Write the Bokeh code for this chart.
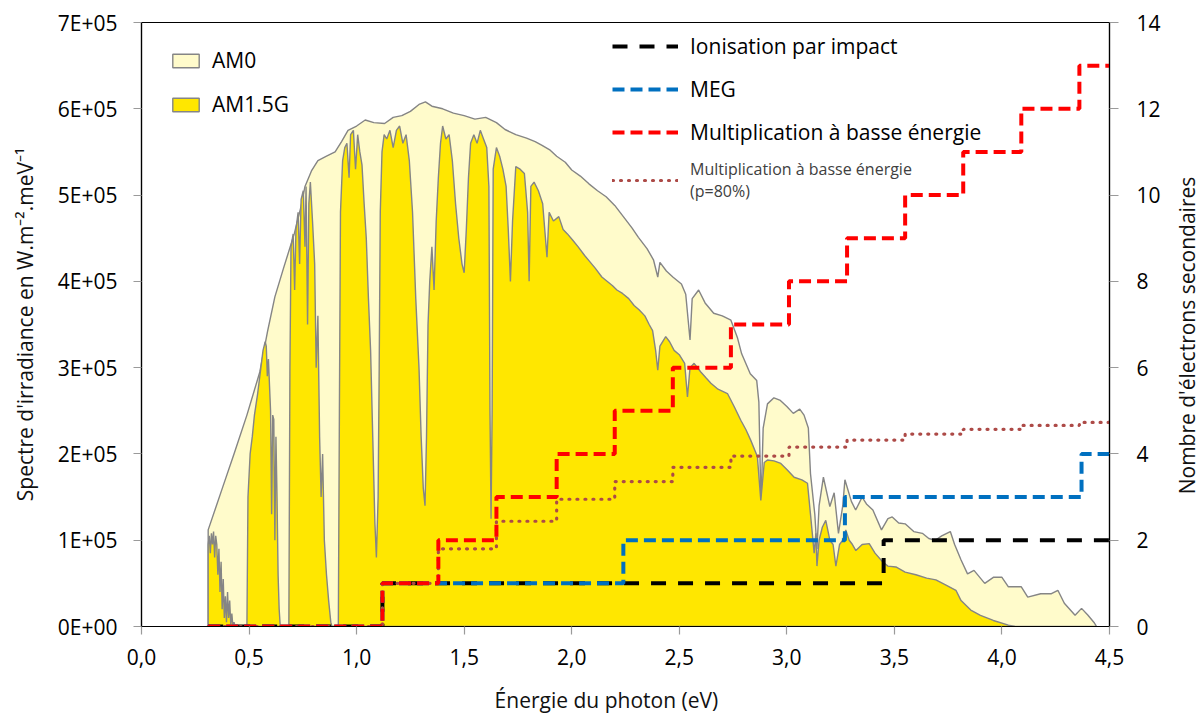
import math
import numpy as np
from bokeh.plotting import figure
from bokeh.layouts import row
from bokeh.models import (Range1d, LinearAxis, FixedTicker, Legend, LegendItem, Label)
from bokeh.embed import file_html
from bokeh.resources import INLINE

# ---------------- data ----------------
# AM0 spectrum (photon energy in eV, irradiance in units of 1E+05 W.m-2.meV-1)
am0_ev = [0.31, 0.37, 0.43, 0.49, 0.55, 0.586, 0.62, 0.66, 0.71, 0.74, 0.76, 0.79, 0.82, 0.86,
          0.90, 0.93, 0.96, 1.00, 1.04, 1.08, 1.13, 1.17, 1.21, 1.25, 1.29, 1.32, 1.35, 1.40,
          1.45, 1.50, 1.55, 1.60, 1.65, 1.69, 1.74, 1.79, 1.83, 1.86, 1.90, 1.93, 1.97, 2.00,
          2.04, 2.08, 2.12, 2.16, 2.20, 2.24, 2.28, 2.31, 2.35, 2.38, 2.40, 2.41, 2.44, 2.47,
          2.51, 2.53, 2.55, 2.56, 2.59, 2.62, 2.66, 2.70, 2.74, 2.77, 2.79, 2.83, 2.86, 2.87,
          2.88, 2.89, 2.91, 2.94, 2.97, 3.00, 3.03, 3.06, 3.08, 3.10, 3.11, 3.13, 3.14, 3.15,
          3.17, 3.20, 3.22, 3.24, 3.26, 3.27, 3.30, 3.32, 3.35, 3.37, 3.40, 3.44, 3.47, 3.49,
          3.52, 3.55, 3.59, 3.63, 3.66, 3.69, 3.72, 3.76, 3.78, 3.81, 3.84, 3.87, 3.92, 3.96,
          4.00, 4.03, 4.09, 4.12, 4.18, 4.23, 4.26, 4.29, 4.34, 4.37, 4.40, 4.43, 4.44]
am0_irr = [1.12, 1.56, 2.00, 2.45, 2.95, 3.42, 3.82, 4.15, 4.55, 4.85, 5.10, 5.28, 5.40, 5.45,
           5.50, 5.62, 5.75, 5.80, 5.87, 5.84, 5.83, 5.90, 5.92, 5.97, 6.05, 6.08, 6.03, 6.00,
           5.95, 5.92, 5.88, 5.90, 5.84, 5.76, 5.70, 5.66, 5.62, 5.58, 5.52, 5.45, 5.38, 5.29,
           5.22, 5.13, 5.05, 4.98, 4.88, 4.75, 4.62, 4.51, 4.38, 4.25, 4.05, 4.22, 4.12, 4.05,
           3.97, 3.85, 3.32, 3.80, 3.90, 3.75, 3.63, 3.60, 3.55, 3.35, 3.16, 2.93, 2.85, 2.60,
           1.40, 2.30, 2.58, 2.65, 2.62, 2.55, 2.47, 2.52, 2.45, 2.30, 1.77, 1.30, 0.90, 1.40,
           1.73, 1.39, 1.55, 1.08, 1.40, 1.70, 1.45, 1.35, 1.50, 1.42, 1.35, 1.12, 1.25, 1.27,
           1.20, 1.19, 1.10, 1.08, 1.02, 1.00, 1.05, 1.10, 0.95, 0.77, 0.61, 0.65, 0.50, 0.57,
           0.57, 0.46, 0.46, 0.34, 0.38, 0.38, 0.42, 0.27, 0.13, 0.21, 0.13, 0.04, 0.0]

# AM1.5G spectrum
am15_ev = [0.310, 0.315, 0.320, 0.325, 0.330, 0.335, 0.340, 0.345, 0.350, 0.355, 0.360, 0.365,
           0.370, 0.375, 0.380, 0.385, 0.390, 0.395, 0.400, 0.405, 0.410, 0.415, 0.420, 0.425,
           0.430, 0.435, 0.490, 0.495, 0.505, 0.515, 0.525, 0.540, 0.555, 0.565, 0.575, 0.580,
           0.585, 0.590, 0.600, 0.605, 0.610, 0.615, 0.620, 0.625, 0.630, 0.635, 0.640, 0.645,
           0.685, 0.690, 0.695, 0.705, 0.712, 0.718, 0.728, 0.735, 0.742, 0.752, 0.760, 0.765,
           0.772, 0.778, 0.785, 0.795, 0.805, 0.812, 0.820, 0.828, 0.835, 0.842, 0.850, 0.860,
           0.870, 0.880, 0.885, 0.915, 0.920, 0.925, 0.935, 0.945, 0.955, 0.965, 0.972, 0.985,
           0.995, 1.005, 1.015, 1.025, 1.035, 1.045, 1.055, 1.065, 1.075, 1.085, 1.092, 1.100,
           1.105, 1.110, 1.118, 1.128, 1.140, 1.155, 1.170, 1.185, 1.200, 1.215, 1.230, 1.245,
           1.260, 1.275, 1.290, 1.300, 1.310, 1.318, 1.325, 1.332, 1.340, 1.350, 1.360, 1.370,
           1.380, 1.390, 1.400, 1.415, 1.430, 1.445, 1.460, 1.475, 1.490, 1.500, 1.510, 1.520,
           1.530, 1.545, 1.560, 1.575, 1.590, 1.605, 1.615, 1.620, 1.625, 1.630, 1.635, 1.650,
           1.665, 1.680, 1.695, 1.705, 1.715, 1.725, 1.740, 1.760, 1.780, 1.795, 1.802, 1.810,
           1.825, 1.845, 1.865, 1.885, 1.895, 1.915, 1.940, 1.960, 1.980, 2.004, 2.030, 2.060,
           2.080, 2.110, 2.140, 2.160, 2.190, 2.210, 2.236, 2.265, 2.290, 2.313, 2.340, 2.360,
           2.376, 2.390, 2.400, 2.410, 2.437, 2.455, 2.476, 2.500, 2.525, 2.538, 2.550, 2.569,
           2.600, 2.625, 2.647, 2.680, 2.724, 2.755, 2.786, 2.810, 2.832, 2.863, 2.879, 2.895,
           2.910, 2.940, 2.972, 3.000, 3.034, 3.070, 3.096, 3.110, 3.127, 3.135, 3.140, 3.150,
           3.165, 3.181, 3.200, 3.215, 3.228, 3.245, 3.260, 3.274, 3.290, 3.305, 3.321, 3.350,
           3.383, 3.410, 3.445, 3.470, 3.507, 3.550, 3.600, 3.650, 3.693, 3.740, 3.786, 3.810,
           3.855, 3.900, 3.960, 4.030, 4.060]
am15_irr = [0.95, 1.05, 0.85, 1.08, 0.95, 1.10, 0.80, 1.05, 0.95, 0.60, 0.90, 0.40,
            0.75, 0.20, 0.55, 0.10, 0.35, 0.05, 0.40, 0.10, 0.30, 0.02, 0.15, 0.0,
            0.05, 0.0, 0.0, 1.50, 2.00, 2.20, 2.45, 2.70, 3.00, 3.20, 3.30, 3.25,
            2.90, 3.10, 2.50, 1.30, 2.45, 2.40, 1.00, 2.20, 1.50, 0.60, 0.20, 0.0,
            0.0, 3.00, 4.40, 4.55, 3.90, 4.60, 4.80, 4.20, 4.95, 5.05, 4.40, 5.10,
            3.50, 4.90, 5.15, 4.70, 4.20, 3.00, 3.60, 2.20, 1.50, 2.00, 1.00, 0.60,
            0.30, 0.05, 0.0, 0.0, 2.50, 4.80, 5.40, 5.55, 5.60, 5.20, 5.70, 5.75,
            5.30, 5.70, 5.50, 5.35, 4.90, 4.50, 3.80, 3.20, 2.20, 1.20, 0.80, 1.50,
            3.00, 4.80, 5.50, 5.70, 5.65, 5.75, 5.55, 5.75, 5.80, 5.60, 5.70, 5.40,
            4.80, 3.80, 3.00, 2.20, 1.60, 1.40, 2.20, 3.50, 4.00, 4.40, 3.90, 4.70,
            5.20, 5.60, 5.80, 5.65, 5.70, 5.40, 4.90, 4.50, 4.20, 4.10, 4.60, 5.20,
            5.60, 5.70, 5.60, 5.75, 5.65, 5.55, 5.10, 2.50, 1.25, 2.50, 5.30, 5.55,
            5.45, 5.30, 5.10, 4.60, 4.00, 4.70, 5.33, 5.30, 5.25, 4.80, 4.00, 5.10,
            5.15, 5.05, 4.90, 4.28, 4.80, 4.70, 4.75, 4.60, 4.55, 4.48, 4.40, 4.30,
            4.24, 4.15, 4.05, 4.01, 3.95, 3.90, 3.86, 3.80, 3.72, 3.67, 3.60, 3.50,
            3.43, 3.20, 2.97, 3.25, 3.36, 3.30, 3.20, 3.15, 3.05, 2.66, 3.00, 3.05,
            2.95, 2.88, 2.82, 2.75, 2.70, 2.55, 2.39, 2.28, 2.16, 1.97, 1.46, 1.90,
            1.93, 1.92, 1.89, 1.82, 1.73, 1.70, 1.66, 1.30, 0.85, 1.08, 0.70, 1.00,
            1.15, 1.23, 1.00, 0.95, 0.70, 0.95, 1.00, 1.12, 1.00, 0.95, 0.88, 0.95,
            0.96, 0.85, 0.75, 0.70, 0.69, 0.63, 0.60, 0.56, 0.54, 0.48, 0.42, 0.30,
            0.19, 0.13, 0.07, 0.015, 0.0]

# Secondary electrons (step thresholds in eV and number of electrons)
ion_ev = [0.31, 1.12, 3.45, 4.50]
ion_n = [0, 1, 2, 2]
meg_ev = [0.31, 1.12, 2.24, 3.27, 4.37, 4.50]
meg_n = [0, 1, 2, 3, 4, 4]
lem_ev = [0.31, 1.12, 1.38, 1.65, 1.93, 2.20, 2.47, 2.74, 3.01, 3.28, 3.55, 3.82, 4.09, 4.36, 4.50]
lem_n = [0, 1, 2, 3, 4, 5, 6, 7, 8, 9, 10, 11, 12, 13, 13]
lem80_n = [0, 1, 1.8, 2.44, 2.95, 3.36, 3.69, 3.95, 4.16, 4.32, 4.46, 4.57, 4.66, 4.73, 4.73]

x_ticks = [0.0, 0.5, 1.0, 1.5, 2.0, 2.5, 3.0, 3.5, 4.0, 4.5]
x_tick_labels = ["0,0", "0,5", "1,0", "1,5", "2,0", "2,5", "3,0", "3,5", "4,0", "4,5"]
y_ticks = [0, 100000, 200000, 300000, 400000, 500000, 600000, 700000]
y_tick_labels = ["0E+00", "1E+05", "2E+05", "3E+05", "4E+05", "5E+05", "6E+05", "7E+05"]
y2_ticks = [0, 2, 4, 6, 8, 10, 12, 14]

# ---------------- figure ----------------
FONT = "Open Sans"
NB = "\u00a0"
W, H = 1166, 717          # main chart
TW = 34                   # narrow strip holding the right-hand axis title
FL, FR, FT, FB = 141, 1109, 22, 626   # frame edges on the page
p = figure(width=W, height=H, output_backend="svg", toolbar_location=None,
           x_range=Range1d(0, 4.5), y_range=Range1d(0, 700000))
p.min_border_left = FL
p.min_border_right = W - FR
p.min_border_top = FT
p.min_border_bottom = H - FB
p.extra_y_ranges = {"n": Range1d(0, 14)}
p.xgrid.visible = False
p.ygrid.visible = False
p.outline_line_color = "black"
p.outline_line_width = 1.2
p.background_fill_color = "white"
p.border_fill_color = "white"

def close_poly(xs, ys):
    sx = [xs[0]] + list(xs) + [xs[-1]]
    sy = [0.0] + [v * 1e5 for v in ys] + [0.0]
    return sx, sy

ax0, ay0 = close_poly(am0_ev, am0_irr)
r_am0 = p.patch(ax0, ay0, fill_color="#FFFBCB", line_color="#858585", line_width=1.4)
ax1, ay1 = close_poly(am15_ev, am15_irr)
r_am15 = p.patch(ax1, ay1, fill_color="#FFE700", line_color="#858585", line_width=1.4)

r_ion = p.step(ion_ev, ion_n, mode="after", y_range_name="n", line_color="black",
               line_width=4, line_dash="15 12")
r_meg = p.step(meg_ev, meg_n, mode="after", y_range_name="n", line_color="#0070C0",
               line_width=4, line_dash="12 6")
r_l80 = p.step(lem_ev, lem80_n, mode="after", y_range_name="n", line_color="#AD4A47",
               line_width=3.2, line_dash="1 7", line_cap="round")
r_lem = p.step(lem_ev, lem_n, mode="after", y_range_name="n", line_color="#FF0000",
               line_width=4, line_dash="12 6")

# axes
def style_axis(ax):
    ax.major_label_text_font = FONT
    ax.major_label_text_font_size = "21px"
    ax.major_label_text_color = "black"
    ax.axis_label_text_font = FONT
    ax.axis_label_text_font_size = "21px"
    ax.axis_label_text_font_style = "normal"
    ax.axis_label_text_color = "#111111"
    ax.axis_line_color = "black"
    ax.axis_line_width = 1.2
    ax.major_tick_line_color = "#9a9a9a"
    ax.major_tick_line_width = 1.2
    ax.major_tick_in = 0
    ax.major_tick_out = 8
    ax.minor_tick_line_color = None

xa = p.xaxis[0]
style_axis(xa)
xa.ticker = FixedTicker(ticks=x_ticks)
xa.major_label_overrides = dict(zip(x_ticks, x_tick_labels))
xa.major_label_standoff = 14
xa.axis_label = "Énergie du photon (eV)" + NB * 7
xa.axis_label_standoff = 18

ya = p.yaxis[0]
style_axis(ya)
ya.ticker = FixedTicker(ticks=y_ticks)
ya.major_label_overrides = dict(zip(y_ticks, y_tick_labels))
ya.major_label_standoff = 16
ya.axis_label = "Spectre d'irradiance en W.m⁻².meV⁻¹"
ya.axis_label_standoff = 16

ra = LinearAxis(y_range_name="n")
style_axis(ra)
ra.ticker = FixedTicker(ticks=y2_ticks)
ra.major_tick_out = 9
ra.major_label_standoff = 18
p.add_layout(ra, "right")

# legends
def make_legend(items, x, y, size, color, spacing, gw, gh, standoff):
    lg = Legend(items=items, location=(x, y), orientation="vertical")
    lg.label_text_font = FONT
    lg.label_text_font_size = size
    lg.label_text_color = color
    lg.border_line_color = None
    lg.background_fill_alpha = 0
    lg.padding = 0
    lg.margin = 0
    lg.spacing = spacing
    lg.glyph_width = gw
    lg.glyph_height = gh
    lg.label_standoff = standoff
    lg.label_height = 20
    return lg

leg1 = make_legend([LegendItem(label="AM0", renderers=[r_am0]),
                    LegendItem(label="AM1.5G", renderers=[r_am15])],
                   28, 508, "21px", "black", 16, 33, 17, 10)
leg2 = make_legend([LegendItem(label="Ionisation par impact", renderers=[r_ion]),
                    LegendItem(label="MEG", renderers=[r_meg]),
                    LegendItem(label="Multiplication à basse énergie", renderers=[r_lem])],
                   471, 480, "21px", "black", 15, 66, 20, 12)
leg3 = make_legend([LegendItem(label="Multiplication à basse énergie\n(p=80%)", renderers=[r_l80])],
                   471, 424, "16px", "#404040", 0, 66, 20, 12)
for lg in (leg1, leg2, leg3):
    p.add_layout(lg, "center")

# strip to the right carrying the secondary-axis title, reading bottom to top
t = figure(width=TW, height=H, output_backend="svg", toolbar_location=None,
           x_range=Range1d(0, 1), y_range=Range1d(0, 1))
t.min_border = 0
t.min_border_left = 0
t.min_border_right = 0
t.min_border_top = 0
t.min_border_bottom = 0
t.axis.visible = False
t.grid.visible = False
t.outline_line_color = None
t.border_fill_color = "white"
t.background_fill_color = "white"
# the strip's frame is aligned with the main frame (bottom edge at FB on the page)
t.add_layout(Label(x=20, y=FB - 335, x_units="screen", y_units="screen",
                   text="Nombre d'électrons secondaires", angle=math.pi / 2,
                   text_align="center", text_baseline="middle",
                   text_font=FONT, text_font_size="21px", text_color="#111111"))

page = row(p, t, spacing=0)
open("out.html", "w").write(file_html(page, INLINE))
